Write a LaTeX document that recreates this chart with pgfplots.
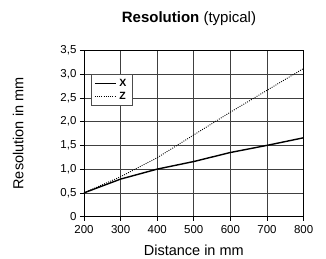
\documentclass[border=0pt]{standalone}
\usepackage{fontspec}
\setmainfont{Liberation Sans}
\usepackage{pgfplots}
\pgfplotsset{compat=1.18}
\begin{document}
\begin{tikzpicture}
\begin{axis}[
  scale only axis, width=219.6pt, height=166.2pt,
  xmin=200, xmax=800, ymin=0, ymax=3.5,
  xtick={200,300,400,500,600,700,800},
  ytick={0,0.5,1,1.5,2,2.5,3,3.5},
  yticklabels={0,{0,5},{1,0},{1,5},{2,0},{2,5},{3,0},{3,5}},
  xtick pos=left, ytick pos=left,
  grid=major,
  major grid style={black!75, line width=0.7pt},
  axis line style={black, line width=0.9pt},
  tick align=outside, major tick length=4pt,
  tick style={black, line width=0.7pt},
  /pgf/number format/assume math mode=true,
  ticklabel style={font=\fontsize{11.5}{12}\selectfont},
  xticklabel style={yshift=-1pt},
  xlabel={Distance in mm},
  ylabel={Resolution in mm},
  every axis x label/.style={at={(axis description cs:0.5,-0.2)}, anchor=center, font=\fontsize{14.5}{16}\selectfont},
  every axis y label/.style={at={(axis description cs:-0.30,0.5)}, anchor=center, rotate=90, font=\fontsize{14.5}{16}\selectfont},
  title={\textbf{Resolution} (typical)},
  every axis title/.style={at={(axis description cs:0.478,1.19)}, anchor=center, font=\fontsize{15}{17}\selectfont},
  legend style={at={(axis description cs:0.033,0.856)}, anchor=north west,
    draw=black!70, fill=white, font=\fontsize{10.5}{10.5}\selectfont\bfseries,
    inner xsep=2.5pt, inner ysep=2.5pt, row sep=0.5pt, line width=0.7pt,
    nodes={inner xsep=3pt}},
  legend image code/.code={\draw[#1] (0pt,0pt) -- (21pt,0pt);},
  legend cell align=left,
]
\addplot[black, line width=1.4pt] coordinates {
  (200,0.50) (300,0.79) (400,1.00) (500,1.16) (600,1.35) (700,1.50) (800,1.66)
};
\addlegendentry{X}
\addplot[black, line width=0.9pt, dash pattern=on 0.9pt off 1.3pt] coordinates {
  (200,0.50) (300,0.84) (400,1.24) (500,1.72) (600,2.20) (700,2.66) (800,3.12)
};
\addlegendentry{Z}
\end{axis}
\path (current axis.south west) ++(-84pt,-40.4pt) rectangle ++(326pt,257pt);
\end{tikzpicture}
\end{document}
